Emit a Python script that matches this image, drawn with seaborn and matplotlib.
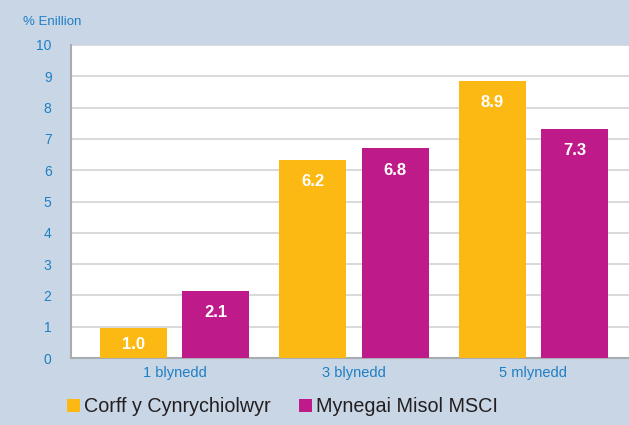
import matplotlib
matplotlib.use('Agg')
import matplotlib.pyplot as plt
import pandas as pd
import seaborn as sns

# data
periods = ['1 blynedd', '3 blynedd', '5 mlynedd']
series = ['Corff y Cynrychiolwyr', 'Mynegai Misol MSCI']
corff = [0.97, 6.33, 8.85]
msci = [2.14, 6.7, 7.32]
corff_labels = ['1.0', '6.2', '8.9']
msci_labels = ['2.1', '6.8', '7.3']

colours = ['#fdb913', '#be1a8a']
bg = '#c9d6e5'
blue = '#1f7fc4'

df = pd.DataFrame({
    'period': periods * 2,
    'series': [series[0]] * 3 + [series[1]] * 3,
    'value': corff + msci,
})

sns.set_style('white')
plt.rcParams['font.family'] = ['Liberation Sans', 'DejaVu Sans']

fig = plt.figure(figsize=(6.29, 4.25), dpi=100, facecolor=bg)
ax = fig.add_axes([71 / 629, 1 - 358 / 425, 1 - 71 / 629, 313 / 425])
ax.set_facecolor('white')

sns.barplot(data=df, x='period', y='value', hue='series', palette=colours,
            width=0.92, gap=0.187, saturation=1, ax=ax, zorder=3,
            linewidth=0, edgecolor='none')

# value labels inside bars
for cont, labs in zip(ax.containers, [corff_labels, msci_labels]):
    for bar, lab in zip(cont, labs):
        h = bar.get_height()
        y = max(h - 0.7, 0.42)
        ax.text(bar.get_x() + bar.get_width() / 2, y, lab, ha='center',
                va='center', color='white', fontsize=12, fontweight='bold',
                zorder=4)

ax.set_ylim(0, 10)
ax.set_xlim(-0.578, 2.533)
ax.set_yticks(range(0, 11))
ax.yaxis.grid(True, color='#d3d3d3', linewidth=1.2, zorder=0)
ax.set_axisbelow(True)
ax.set_xlabel('')
ax.set_ylabel('')
ax.tick_params(axis='y', colors=blue, labelsize=10, length=0, pad=14)
ax.tick_params(axis='x', colors=blue, labelsize=10.5, length=0, pad=6)

for s in ['top', 'right']:
    ax.spines[s].set_visible(False)
for s in ['left', 'bottom']:
    ax.spines[s].set_color('#a8acb0')
    ax.spines[s].set_linewidth(1.5)

fig.text(23 / 629, 1 - 22 / 425, '% Enillion', color=blue, fontsize=9.5,
         va='center', ha='left')

sns.move_legend(ax, 'center left', bbox_to_anchor=(67 / 629, 1 - 407 / 425),
                bbox_transform=fig.transFigure, ncol=2, frameon=False,
                title=None, fontsize=14.2, handlelength=0.65, handleheight=0.65,
                handletextpad=0.2, columnspacing=1.45, borderpad=0,
                borderaxespad=0, labelcolor='#231f20')
for h in ax.get_legend().legend_handles:
    h.set_edgecolor('none')
    h.set_linewidth(0)

fig.savefig('out.png', dpi=100, facecolor=bg)
